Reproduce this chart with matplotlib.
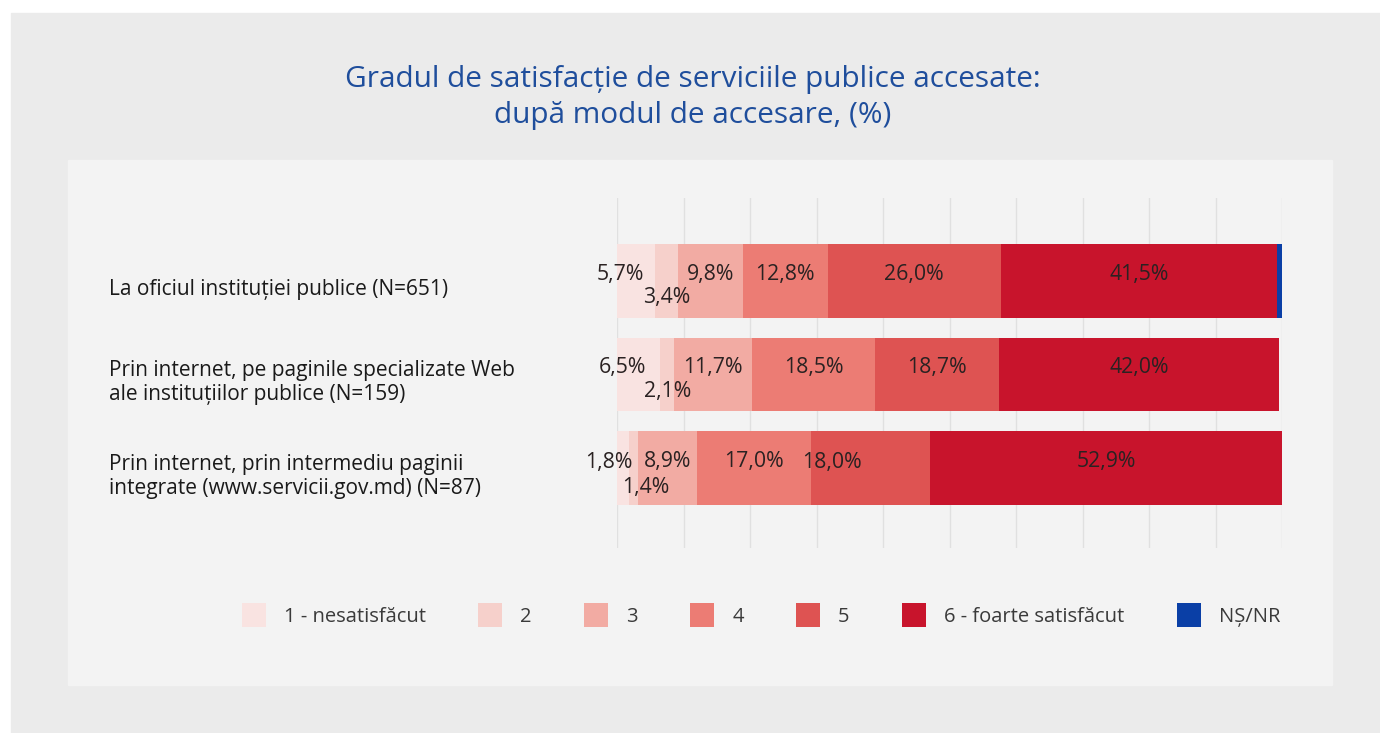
import numpy as np
import matplotlib.pyplot as plt
from matplotlib.patches import Rectangle
from matplotlib.transforms import blended_transform_factory

plt.rcParams['font.family'] = ['Open Sans', 'DejaVu Sans']

categories = ['La oficiul instituției publice (N=651)',
              'Prin internet, pe paginile specializate Web\nale instituțiilor publice (N=159)',
              'Prin internet, prin intermediu paginii\nintegrate (www.servicii.gov.md) (N=87)']
series = ['1 - nesatisfăcut', '2', '3', '4', '5', '6 - foarte satisfăcut', 'NȘ/NR']
s1 = [5.7, 6.5, 1.8]
s2 = [3.4, 2.1, 1.4]
s3 = [9.8, 11.7, 8.9]
s4 = [12.8, 18.5, 17.0]
s5 = [26.0, 18.7, 18.0]
s6 = [41.5, 42.0, 52.9]
nsnr = [0.8, 0.0, 0.0]

colors = ['#f9e3e1', '#f6d0cb', '#f2aba3', '#ec7c74', '#de5352', '#c8142c', '#0a3fa6']

fig = plt.figure(figsize=(13.8, 7.33), dpi=100, facecolor='white')
fig.patches.append(Rectangle((11/1380, 0), 1, 1 - 13/733, transform=fig.transFigure,
                             color='#ebebeb', zorder=-2))
fig.patches.append(Rectangle((68/1380, 1 - 685/733), (1332-68)/1380, (685-160)/733,
                             transform=fig.transFigure, color='#f3f3f3', zorder=-1))

ax = fig.add_axes([617/1380, 1 - 548/733, 665/1380, 350/733])
ax.set_facecolor('none')

data = [s1, s2, s3, s4, s5, s6, nsnr]
y = np.arange(len(categories))
left = np.zeros(len(categories))
# manual label nudges (points), like the moved labels in the original
nudges = {(0, 0): (-11, 5), (1, 0): (-12, 5), (2, 0): (-10, 4),
          (0, 1): (0, -12), (1, 1): (0, -12), (2, 1): (9, -14),
          (2, 4): (-28, 4)}
for k, (name, vals) in enumerate(zip(series, data)):
    ax.barh(y, vals, left=left, height=0.79, color=colors[k], label=name, zorder=2)
    if k < 6:
        for i, v in enumerate(vals):
            dx, dy = nudges.get((i, k), (0, 5))
            ax.annotate(f'{v:.1f}%'.replace('.', ','), (left[i] + v / 2, y[i]),
                        xytext=(dx, dy), textcoords='offset points',
                        ha='center', va='center', fontsize=15.3, color='#2a2222', zorder=3)
    left += np.array(vals)

ax.set_xlim(0, 100)
ax.set_ylim(2.856, -0.888)
ax.set_xticks(np.arange(0, 101, 10))
ax.set_yticks([])
ax.grid(axis='x', color='#e0e0e0', lw=1, zorder=0)
ax.tick_params(length=0, labelbottom=False)
for sp in ax.spines.values():
    sp.set_visible(False)

tr = blended_transform_factory(ax.transAxes, ax.transData)
for i, cat in enumerate(categories):
    ax.annotate(cat, (-0.764, y[i]), xycoords=tr, xytext=(0, -6), textcoords='offset points',
                ha='left', va='center', fontsize=15, color='#1a1a1a', linespacing=1.2)

fig.text(693/1380, 1 - 97.5/733,
         'Gradul de satisfacție de serviciile publice accesate:\ndupă modul de accesare, (%)',
         ha='center', va='center', fontsize=21.4, color='#1f4e9c', linespacing=1.36)

fig.legend(loc='center', bbox_to_anchor=(761/1380, 1 - 615/733), ncol=7, frameon=False,
           fontsize=14.5, handlelength=1.19, handleheight=1.5, handletextpad=0.9,
           columnspacing=2.6, labelcolor='#3a3a3a')

fig.savefig('out.png', dpi=100, facecolor=fig.get_facecolor())
